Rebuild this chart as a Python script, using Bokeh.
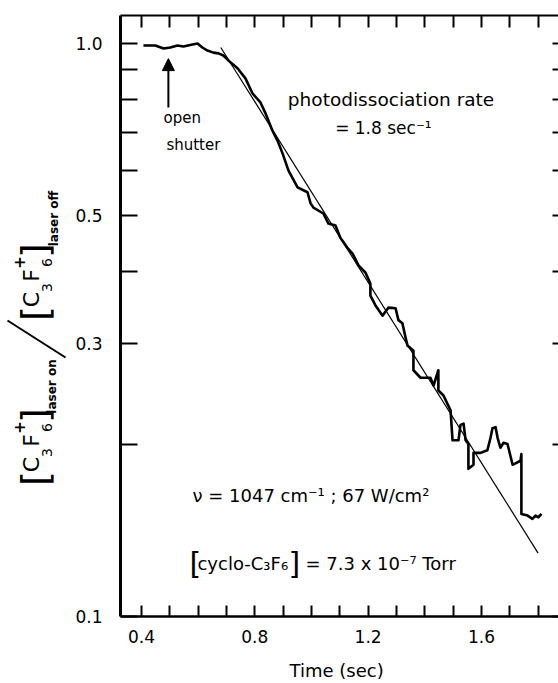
import math
from bokeh.plotting import figure
from bokeh.layouts import row
from bokeh.models import (Range1d, FixedTicker, LinearAxis, LogAxis, Label, Arrow,
                          NormalHead, CustomJSTickFormatter)
from bokeh.embed import file_html
from bokeh.resources import INLINE

# ---------------- data ----------------
time_sec = [0.407, 0.449, 0.478, 0.502, 0.527, 0.548, 0.580, 0.598, 0.615, 0.633,
            0.654, 0.672, 0.689, 0.714, 0.739, 0.767, 0.792, 0.820, 0.838, 0.862,
            0.880, 0.898, 0.919, 0.951, 0.986, 0.997, 1.007, 1.042, 1.060, 1.085,
            1.102, 1.127, 1.145, 1.166, 1.191, 1.208, 1.208, 1.226, 1.251, 1.272,
            1.297, 1.307, 1.321, 1.332, 1.339, 1.360, 1.360, 1.385, 1.420, 1.431,
            1.448, 1.448, 1.466, 1.480, 1.491, 1.498, 1.519, 1.526, 1.537, 1.544,
            1.554, 1.554, 1.572, 1.572, 1.597, 1.621, 1.632, 1.639, 1.650, 1.657,
            1.667, 1.678, 1.692, 1.710, 1.720, 1.738, 1.741, 1.741, 1.763, 1.780,
            1.791, 1.801, 1.812]
ratio = [0.992, 0.992, 0.980, 0.984, 0.992, 0.988, 0.996, 1.000, 0.984, 0.972,
         0.964, 0.961, 0.953, 0.927, 0.905, 0.869, 0.818, 0.789, 0.755, 0.705,
         0.677, 0.643, 0.600, 0.561, 0.550, 0.526, 0.517, 0.505, 0.485, 0.481,
         0.458, 0.440, 0.430, 0.410, 0.398, 0.381, 0.363, 0.349, 0.335, 0.346,
         0.345, 0.329, 0.325, 0.307, 0.297, 0.291, 0.269, 0.261, 0.261, 0.253,
         0.269, 0.248, 0.243, 0.235, 0.229, 0.203, 0.203, 0.216, 0.217, 0.203,
         0.200, 0.181, 0.184, 0.193, 0.193, 0.195, 0.205, 0.213, 0.214, 0.205,
         0.197, 0.201, 0.200, 0.184, 0.185, 0.187, 0.192, 0.151, 0.150, 0.148,
         0.150, 0.149, 0.151]

# fitted exponential decay (rate 1.8 / sec), a straight line on the log axis
fit_time = [0.68, 1.80]
fit_ratio = [0.984, 0.129]

x_major = [0.4, 0.8, 1.2, 1.6]
x_minor = [0.5, 0.6, 0.7, 0.9, 1.0, 1.1, 1.3, 1.4, 1.5, 1.7, 1.8]
y_major = [0.1, 0.3, 0.5, 1.0]
y_minor = [0.2, 0.4, 0.6, 0.7, 0.8, 0.9]

FONT = "DejaVu Sans"
TITLE_W = 70
FRAME_TOP = 15
FRAME_BOTTOM = 616

# ---------------- main plot ----------------
p = figure(width=558 - TITLE_W, height=683,
           x_range=Range1d(0.326, 1.872), y_range=Range1d(0.1, 1.119),
           y_axis_type="log", output_backend="svg", toolbar_location=None,
           min_border_left=120 - TITLE_W, min_border_top=FRAME_TOP,
           min_border_bottom=683 - FRAME_BOTTOM, min_border_right=0)
p.xgrid.visible = False
p.ygrid.visible = False
p.outline_line_color = None
p.background_fill_color = "white"
p.border_fill_color = "white"

fmt = CustomJSTickFormatter(code="return tick.toFixed(1)")
blank = CustomJSTickFormatter(code="return ''")

def style_axis(ax, tick_in, show_labels=True, line=True, lw=2.5):
    ax.major_tick_in = tick_in
    ax.major_tick_out = 0
    ax.minor_tick_in = tick_in
    ax.minor_tick_out = 0
    ax.major_tick_line_width = 2
    ax.minor_tick_line_width = 2
    ax.major_tick_line_color = "black"
    ax.minor_tick_line_color = "black"
    if line:
        ax.axis_line_width = lw
        ax.axis_line_color = "black"
    else:
        ax.axis_line_color = None
    ax.major_label_text_font = FONT
    ax.major_label_text_font_size = "17px"
    ax.major_label_text_color = "black"
    if show_labels:
        ax.formatter = fmt
    else:
        ax.formatter = blank
        ax.major_label_standoff = 0

# bottom axis
xb = p.xaxis[0]
xb.ticker = FixedTicker(ticks=x_major, minor_ticks=x_minor)
style_axis(xb, 11)
xb.major_label_standoff = 13
xb.axis_label = "Time  (sec)"
xb.axis_label_text_font = FONT
xb.axis_label_text_font_size = "18px"
xb.axis_label_text_font_style = "normal"
xb.axis_label_text_color = "black"
xb.axis_label_standoff = 14

# left axis
yl = p.yaxis[0]
yl.ticker = FixedTicker(ticks=y_major, minor_ticks=y_minor)
style_axis(yl, 17, lw=3)
yl.major_label_standoff = 18

# top axis (ticks only)
xt = LinearAxis(ticker=FixedTicker(ticks=x_major, minor_ticks=x_minor))
style_axis(xt, 12, show_labels=False, lw=2)
p.add_layout(xt, "above")

# right axis (ticks only, the frame edge itself is cut off)
yr = LogAxis(ticker=FixedTicker(ticks=y_major, minor_ticks=y_minor))
style_axis(yr, 6, show_labels=False, line=False)
p.add_layout(yr, "right")

# data
p.line(fit_time, fit_ratio, line_color="black", line_width=1.2)
p.line(time_sec, ratio, line_color="black", line_width=2.6, line_join="round")

def add_text(fig, text, x, y, size, angle=0.0, align="left", baseline="middle", style="normal"):
    fig.add_layout(Label(x=x, y=y, text=text, text_font=FONT, text_font_size=f"{size}px",
                         angle=angle, text_align=align, text_baseline=baseline,
                         text_font_style=style, text_color="black"))

# annotations inside the plot
p.add_layout(Arrow(x_start=0.495, y_start=0.773, x_end=0.495, y_end=0.941,
                   line_width=2, line_color="black",
                   end=NormalHead(size=12, fill_color="black", line_color="black")))
add_text(p, "open", 0.478, 0.740, 15)
add_text(p, "shutter", 0.488, 0.664, 15)
add_text(p, "photodissociation rate", 1.281, 0.798, 18.5, align="center")
add_text(p, "= 1.8 sec\u207b\u00b9", 1.254, 0.711, 17, align="center")
add_text(p, "\u03bd = 1047 cm\u207b\u00b9 ;  67 W/cm\u00b2", 0.580, 0.1626, 18)
add_text(p, "[", 0.5694, 0.1238, 30)
add_text(p, "cyclo-C\u2083F\u2086", 0.5977, 0.1238, 18)
add_text(p, "]", 0.919, 0.1238, 30)
add_text(p, "= 7.3 x 10\u207b\u2077 Torr", 0.979, 0.1238, 18)

# ---------------- y axis title panel ----------------
# the row layout aligns this panel's frame with the main frame, so its
# vertical range is expressed in page pixels between the frame edges
t = figure(width=TITLE_W, height=683, x_range=Range1d(0, TITLE_W),
           y_range=Range1d(FRAME_BOTTOM, FRAME_TOP),
           output_backend="svg", toolbar_location=None,
           x_axis_location=None, y_axis_location=None,
           min_border_left=0, min_border_right=0,
           min_border_top=FRAME_TOP, min_border_bottom=683 - FRAME_BOTTOM)
t.xgrid.visible = False
t.ygrid.visible = False
t.outline_line_color = None
t.background_fill_color = "white"
t.border_fill_color = "white"

ROT = math.pi / 2

def bracket_group(bottom):
    add_text(t, "[", 34, bottom - 7, 38, angle=ROT, align="center")
    add_text(t, "C", 31, bottom - 21, 22, angle=ROT, align="center")
    add_text(t, "3", 46, bottom - 33, 14, angle=ROT, align="center")
    add_text(t, "F", 31, bottom - 45, 22, angle=ROT, align="center")
    add_text(t, "6", 46, bottom - 58, 14, angle=ROT, align="center")
    add_text(t, "+", 18, bottom - 58, 15, angle=ROT, align="center", style="bold")
    add_text(t, "]", 34, bottom - 70, 38, angle=ROT, align="center")

bracket_group(485)
add_text(t, "laser on", 51, 386, 12, angle=ROT, align="center", style="bold")
t.segment(x0=[7], y0=[320], x1=[65], y1=[357], line_width=2, line_color="black")
bracket_group(320)
add_text(t, "laser off", 53, 218, 12, angle=ROT, align="center", style="bold")

layout = row(t, p)
open("out.html", "w").write(file_html(layout, INLINE))
